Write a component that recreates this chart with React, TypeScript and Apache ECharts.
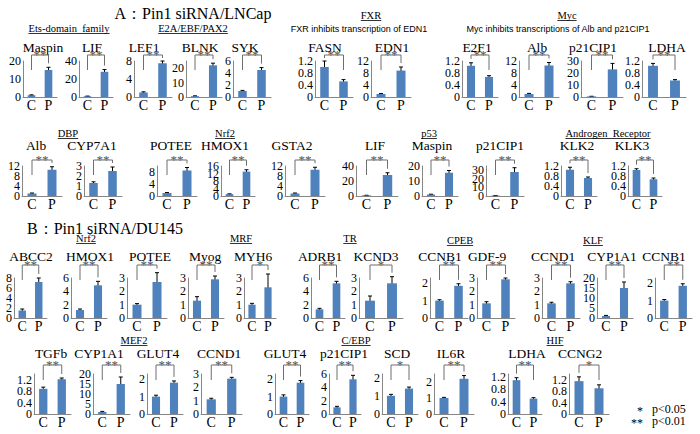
import React, { useEffect, useRef } from "react";
import * as echarts from "echarts";

// ---------- data ----------
const categories = ["C", "P"];

const geneNames = [
  "Maspin", "LIF", "LEF1", "BLNK", "SYK", "FASN", "EDN1", "E2F1", "Alb", "p21CIP1", "LDHA",
  "Alb", "CYP7A1", "POTEE", "HMOX1", "GSTA2", "LIF", "Maspin", "p21CIP1", "KLK2", "KLK3",
  "ABCC2", "HMOX1", "POTEE", "Myog", "MYH6", "ADRB1", "KCND3", "CCNB1", "GDF-9", "CCND1", "CYP1A1", "CCNB1",
  "TGFb", "CYP1A1", "GLUT4", "CCND1", "GLUT4", "p21CIP1", "SCD", "IL6R", "LDHA", "CCNG2",
];

const controlMeans = [
  1, 0.8, 1, 0.6, 1, 1, 1, 1.04, 1, 0.5, 1.04,
  1, 1.3, 1, 1, 1, 0.8, 1, 0.5, 1.05, 1.04,
  1.5, 1.2, 1, 1.3, 1, 1.3, 1.3, 1, 1.1, 1.1, 1, 1,
  0.88, 1, 1, 1.1, 1, 1, 1, 1, 1.1, 1.15,
];
const controlErrors = [
  0.2, 0.2, 0.15, 0.2, 0.1, 0.2, 0.15, 0.1, 0.2, 0.1, 0.08,
  0.2, 0.12, 0.15, 0.15, 0.2, 0.2, 0.2, 0.1, 0.1, 0.05,
  0.3, 0.15, 0.08, 0.3, 0.1, 0.15, 0.35, 0.05, 0.12, 0.08, 0.3, 0.06,
  0.06, 0.3, 0.08, 0.08, 0.1, 0.15, 0.08, 0.04, 0.08, 0.15,
];
const siRNAMeans = [
  15, 28, 7.5, 22, 4.5, 0.52, 8.8, 0.67, 10.5, 23, 0.55,
  10.5, 2.5, 8.5, 13, 10.5, 28, 15.5, 28, 0.72, 0.67,
  7.2, 4.9, 2.7, 2.9, 2.3, 5.2, 2.6, 1.85, 2.9, 2.6, 15, 1.85,
  1.22, 15, 1.8, 2.65, 1.8, 5.2, 1.4, 2.2, 0.5, 0.9,
];
const siRNAErrors = [
  1.5, 2.5, 0.5, 1.5, 0.4, 0.06, 1.2, 0.04, 1, 5, 0.03,
  1.2, 0.4, 1, 1, 1, 3, 1.5, 5, 0.04, 0.05,
  0.8, 0.6, 0.7, 0.25, 1, 0.3, 0.5, 0.12, 0.1, 0.12, 3, 0.12,
  0.04, 3.5, 0.1, 0.1, 0.12, 0.6, 0.08, 0.2, 0.03, 0.12,
];
const significance = [
  "**", "**", "**", "**", "**", "**", "**", "**", "**", "**", "**",
  "**", "**", "**", "**", "**", "**", "**", "**", "**", "**",
  "**", "**", "**", "**", "*", "**", "*", "**", "**", "**", "**", "**",
  "**", "**", "**", "**", "**", "**", "*", "**", "**", "*",
];
const axisMax = [
  20, 40, 8, 25, 6, 1.2, 12, 1.2, 12, 30, 1.2,
  12, 3, 10, 16, 12, 40, 20, 35, 1.2, 1.2,
  8, 6, 3, 3, 3, 6, 3, 2.3, 3, 3, 20, 2.3,
  1.4, 20, 2.3, 3, 2.3, 6, 2.2, 2.5, 1.3, 1.4,
];
const axisStep = [
  10, 20, 4, 10, 2, 0.4, 4, 0.4, 4, 10, 0.4,
  4, 1, 4, 4, 4, 20, 10, 10, 0.4, 0.4,
  2, 2, 1, 1, 1, 2, 1, 1, 1, 1, 5, 1,
  0.4, 5, 1, 1, 1, 2, 1, 1, 0.4, 0.4,
];

const groupLabels = [
  "Ets-domain  family", "E2A/EBF/PAX2", "FXR", "Myc",
  "DBP", "Nrf2", "p53", "Androgen  Receptor",
  "Nrf2", "MRF", "TR", "CPEB", "KLF",
  "MEF2", "C/EBP", "HIF",
];
const noteLabels = [
  "FXR inhibits transcription of EDN1",
  "Myc inhibits transcriptions of Alb and p21CIP1",
];
const panelTitles = ["A\uFF1APin1 siRNA/LNCap", "B\uFF1APin1 siRNA/DU145"];
const legendMarks = ["*", "**"];
const legendTexts = ["p<0.05", "p<0.01"];

// ---------- layout ----------
const panelRow = [
  0, 0, 0, 0, 0, 0, 0, 0, 0, 0, 0,
  1, 1, 1, 1, 1, 1, 1, 1, 1, 1,
  2, 2, 2, 2, 2, 2, 2, 2, 2, 2, 2, 2,
  3, 3, 3, 3, 3, 3, 3, 3, 3, 3,
];
const panelLeft = [
  23, 79, 134, 186, 233, 315, 371, 462, 519, 581, 642,
  22, 84, 157, 221, 285, 356, 422, 486, 561, 628,
  14, 71, 127, 188, 244, 311, 359, 430, 477, 542, 597, 655,
  34, 93, 147, 201, 275, 329, 382, 434, 508, 569,
];
const panelWidth = [
  34, 34, 38, 36, 38, 38, 40, 36, 40, 42, 44,
  40, 38, 40, 34, 40, 42, 36, 38, 36, 34,
  33, 36, 40, 36, 32, 34, 44, 38, 38, 38, 36, 37,
  37, 37, 36, 41, 34, 32, 36, 40, 34, 40,
];
const titleX = [
  43, 92, 144, 200, 245, 325, 392, 477, 537, 593, 667,
  36, 92, 171, 225, 292, 375, 432, 500, 577, 632,
  31, 90, 150, 205, 253, 320, 376, 440, 487, 553, 612, 664,
  51, 99, 158, 219, 285, 344, 397, 451, 527, 580,
];
const rowTop = [61, 166, 278, 374];
const rowBase = [97, 196, 318, 414];
const rowTitleY = [47, 145, 256, 353];
const rowBracketY = [55, 160, 265, 365];
const groupX = [69, 193, 371, 567, 68, 225, 429, 608, 86, 241, 350, 460, 593, 134, 356, 555];
const groupY = [28, 28, 15, 15, 133, 133, 133, 133, 238, 238, 238, 240, 240, 340, 340, 340];
const noteX = [359, 558];
const noteY = [29, 29];

const SERIF = "Liberation Serif, Times New Roman, serif";
const SANS = "Liberation Sans, Arial, sans-serif";
const BAR = "#4F81BD";
const AXIS = "#868686";

function measure(text: string, font: string): number {
  const ctx = document.createElement("canvas").getContext("2d");
  if (!ctx) return text.length * 5;
  ctx.font = font;
  return ctx.measureText(text).width;
}

function tickValues(max: number, step: number): number[] {
  const out: number[] = [];
  for (let k = 0; k * step <= max + 1e-9; k++) out.push(Math.round(k * step * 100) / 100);
  return out;
}

export default function App() {
  const ref = useRef<HTMLDivElement>(null);

  useEffect(() => {
    if (!ref.current) return;
    const chart = echarts.init(ref.current, null, { renderer: "svg" });

    const grids: any[] = [];
    const xAxes: any[] = [];
    const yAxes: any[] = [];
    const series: any[] = [];
    const graphics: any[] = [];

    geneNames.forEach((name, i) => {
      const row = panelRow[i];
      const top = rowTop[row];
      const base = rowBase[row];
      const max = axisMax[i];
      const step = axisStep[i];
      grids.push({ left: panelLeft[i], top, width: panelWidth[i], height: base - top });
      xAxes.push({
        type: "category",
        gridIndex: i,
        data: categories,
        axisLine: { lineStyle: { color: AXIS, width: 1 } },
        axisTick: { show: false },
        axisLabel: { fontFamily: SERIF, fontSize: 14, color: "#000", margin: 1 },
      });
      yAxes.push({
        type: "value",
        gridIndex: i,
        min: 0,
        max,
        interval: step,
        splitLine: { show: false },
        axisLine: { show: true, lineStyle: { color: AXIS, width: 1 } },
        axisTick: { show: false },
        axisLabel: { show: false },
      });
      series.push({
        type: "bar",
        xAxisIndex: i,
        yAxisIndex: i,
        data: [controlMeans[i], siRNAMeans[i]],
        barWidth: "45%",
        itemStyle: { color: BAR },
        silent: true,
      });
      // y tick labels, positioned through the axis scale
      series.push({
        type: "custom",
        xAxisIndex: i,
        yAxisIndex: i,
        clip: false,
        silent: true,
        data: tickValues(max, step).map((v) => [0, v]),
        renderItem: (params: any, api: any) => {
          const v = api.value(1);
          const pt = api.coord([0, v]);
          return {
            type: "text",
            x: params.coordSys.x - 2,
            y: pt[1],
            style: {
              text: String(v),
              align: "right",
              verticalAlign: "middle",
              font: `12px ${SERIF}`,
              fill: "#000",
            },
          };
        },
      });
      // error bars
      series.push({
        type: "custom",
        xAxisIndex: i,
        yAxisIndex: i,
        clip: false,
        silent: true,
        data: [
          [0, controlMeans[i], controlErrors[i]],
          [1, siRNAMeans[i], siRNAErrors[i]],
        ],
        renderItem: (_p: any, api: any) => {
          const x = api.value(0);
          const m = api.value(1);
          const e = api.value(2);
          const hi = api.coord([x, m + e]);
          const lo = api.coord([x, Math.max(0, m - e)]);
          const st = { stroke: "#000", lineWidth: 1 };
          return {
            type: "group",
            children: [
              { type: "line", shape: { x1: hi[0], y1: hi[1], x2: lo[0], y2: lo[1] }, style: st },
              { type: "line", shape: { x1: hi[0] - 2, y1: hi[1], x2: hi[0] + 2, y2: hi[1] }, style: st },
              { type: "line", shape: { x1: lo[0] - 2, y1: lo[1], x2: lo[0] + 2, y2: lo[1] }, style: st },
            ],
          };
        },
      });
      // significance bracket
      const by = rowBracketY[row];
      const sig = significance[i];
      series.push({
        type: "custom",
        xAxisIndex: i,
        yAxisIndex: i,
        clip: false,
        silent: true,
        data: [[0, controlMeans[i] + controlErrors[i], siRNAMeans[i] + siRNAErrors[i]]],
        renderItem: (_p: any, api: any) => {
          const c = api.coord([0, api.value(1)]);
          const p = api.coord([1, api.value(2)]);
          const endC = Math.max(by + 3, Math.min(by + 15, c[1] - 4));
          const endP = Math.max(by + 3, Math.min(by + 15, p[1] - 4));
          return {
            type: "group",
            children: [
              {
                type: "polyline",
                shape: { points: [[c[0], endC], [c[0], by], [p[0], by], [p[0], endP]] },
                style: { stroke: "#6f6f6f", lineWidth: 1, fill: "none" },
              },
              {
                type: "text",
                style: {
                  text: sig,
                  x: (c[0] + p[0]) / 2,
                  y: by - 1,
                  align: "center",
                  verticalAlign: "middle",
                  font: `13px ${SERIF}`,
                  fill: "#555",
                },
              },
            ],
          };
        },
      });
      graphics.push({
        type: "text",
        x: titleX[i],
        y: rowTitleY[row],
        style: {
          text: name,
          align: "center",
          verticalAlign: "middle",
          font: `13.5px ${SERIF}`,
          fill: "#000",
        },
      });
    });

    groupLabels.forEach((label, g) => {
      const font = `10.5px ${SERIF}`;
      const w = measure(label, font);
      graphics.push({
        type: "text",
        x: groupX[g],
        y: groupY[g],
        style: { text: label, align: "center", verticalAlign: "middle", font, fill: "#000" },
      });
      graphics.push({
        type: "line",
        shape: { x1: groupX[g] - w / 2, y1: groupY[g] + 5.5, x2: groupX[g] + w / 2, y2: groupY[g] + 5.5 },
        style: { stroke: "#000", lineWidth: 0.8 },
      });
    });

    noteLabels.forEach((label, n) => {
      graphics.push({
        type: "text",
        x: noteX[n],
        y: noteY[n],
        style: { text: label, align: "center", verticalAlign: "middle", font: `9px ${SANS}`, fill: "#000" },
      });
    });

    graphics.push({
      type: "text",
      x: 193,
      y: 13,
      style: { text: panelTitles[0], align: "center", verticalAlign: "middle", font: `16px ${SERIF}`, fill: "#000" },
    });
    graphics.push({
      type: "text",
      x: 27,
      y: 228,
      style: { text: panelTitles[1], align: "left", verticalAlign: "middle", font: `16px ${SERIF}`, fill: "#000" },
    });

    legendMarks.forEach((mark, k) => {
      graphics.push({
        type: "text",
        x: 643,
        y: 411 + k * 12,
        style: { text: mark, align: "right", verticalAlign: "middle", font: `12px ${SERIF}`, fill: "#000" },
      });
      graphics.push({
        type: "text",
        x: 652,
        y: 409 + k * 12,
        style: { text: legendTexts[k], align: "left", verticalAlign: "middle", font: `12px ${SERIF}`, fill: "#000" },
      });
    });

    chart.setOption({
      animation: false,
      backgroundColor: "#fff",
      grid: grids,
      xAxis: xAxes,
      yAxis: yAxes,
      series,
      graphic: { elements: graphics },
    });

    return () => chart.dispose();
  }, []);

  return (
    <div
      ref={ref}
      style={{ position: "absolute", left: 0, top: 0, width: 700, height: 434 }}
    />
  );
}
